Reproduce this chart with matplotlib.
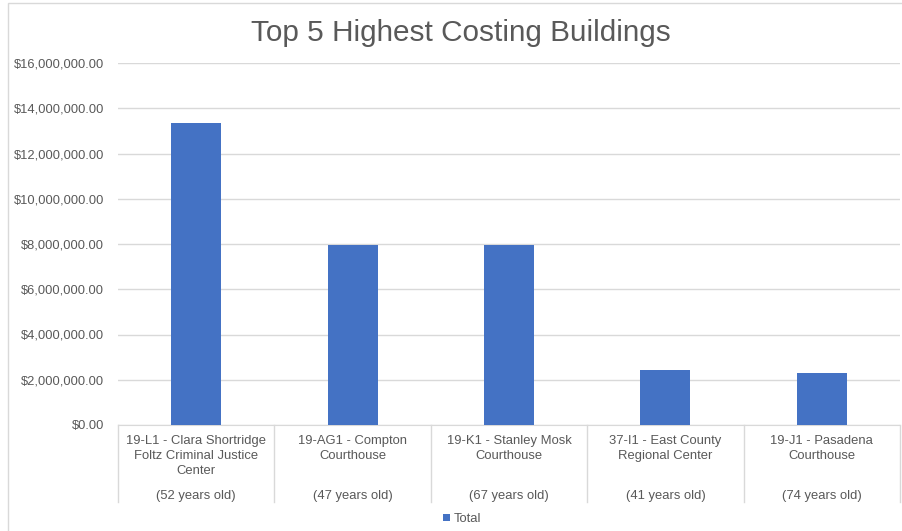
import matplotlib
matplotlib.use('Agg')
import matplotlib.pyplot as plt
from matplotlib.ticker import FuncFormatter
from matplotlib.patches import Rectangle

# data
buildings = ['19-L1 - Clara Shortridge\nFoltz Criminal Justice\nCenter',
             '19-AG1 - Compton\nCourthouse',
             '19-K1 - Stanley Mosk\nCourthouse',
             '37-I1 - East County\nRegional Center',
             '19-J1 - Pasadena\nCourthouse']
ages = ['(52 years old)', '(47 years old)', '(67 years old)', '(41 years old)', '(74 years old)']
totals = [13330000, 7950000, 7950000, 2420000, 2320000]

plt.rcParams['font.family'] = ['Liberation Sans', 'DejaVu Sans']
grey = '#595959'
line_col = '#d9d9d9'
fs = 9.4

fig = plt.figure(figsize=(9.02, 5.31), dpi=100)
W, H = 902.0, 531.0

# chart border like excel (cut off at right and bottom)
fig.patches.append(Rectangle((8 / W, -0.1), 1.0, 1.1 - 3 / H, transform=fig.transFigure,
                             fill=False, edgecolor=line_col, linewidth=1))

ax = fig.add_axes([118 / W, 1 - 425 / H, 782 / W, 362 / H])
x = list(range(len(totals)))
ax.bar(x, totals, width=0.32, color='#4472C4', zorder=3, label='Total')

ax.set_xlim(-0.5, len(totals) - 0.5)
ax.set_ylim(0, 16000000)
ax.set_yticks(range(0, 16000001, 2000000))
ax.yaxis.set_major_formatter(FuncFormatter(lambda v, p: '${:,.2f}'.format(v)))
ax.tick_params(axis='y', length=0, pad=10, labelsize=9.3, labelcolor=grey)
ax.set_xticks([])
ax.grid(axis='y', color=line_col, linewidth=1, zorder=0)
for s in ['top', 'right', 'left']:
    ax.spines[s].set_visible(False)
ax.spines['bottom'].set_color(line_col)

# two level category axis
tr = ax.get_xaxis_transform()
for i in range(len(totals) + 1):
    ax.plot([i - 0.5, i - 0.5], [0, -77 / 362], transform=tr, color=line_col,
            linewidth=1, clip_on=False)
for i in x:
    ax.text(i, -10 / 362, buildings[i], transform=tr, ha='center', va='top',
            fontsize=fs, color=grey, linespacing=1.32)
    ax.text(i, -71 / 362, ages[i], transform=tr, ha='center', va='center',
            fontsize=fs, color=grey)

fig.text(461 / W, 1 - 33 / H, 'Top 5 Highest Costing Buildings', ha='center', va='center',
         fontsize=21.4, color=grey)

fig.legend(loc='center', bbox_to_anchor=(462 / W, 1 - 519 / H), frameon=False,
           fontsize=fs, labelcolor=grey, handlelength=0.5, handleheight=0.5,
           handletextpad=0.3)

fig.savefig('out.png', dpi=100)
